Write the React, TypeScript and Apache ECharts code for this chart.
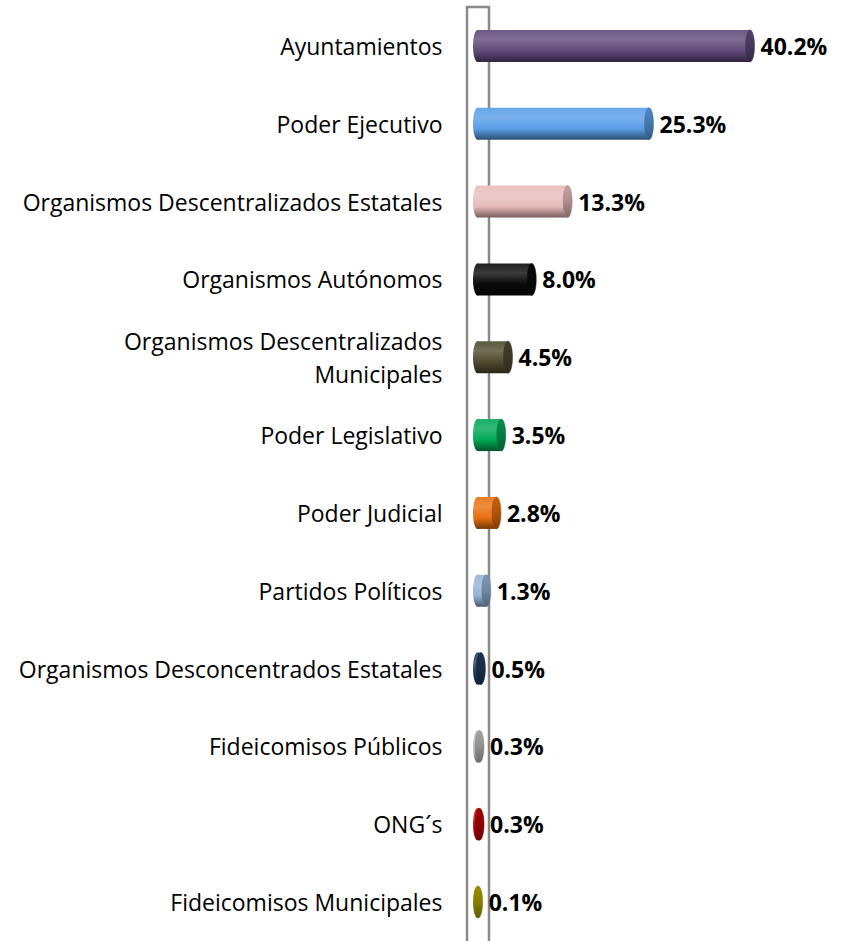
import React, { useEffect, useRef } from "react";
import * as echarts from "echarts";

const categories = [
  "Ayuntamientos",
  "Poder Ejecutivo",
  "Organismos Descentralizados Estatales",
  "Organismos Autónomos",
  "Organismos Descentralizados\nMunicipales",
  "Poder Legislativo",
  "Poder Judicial",
  "Partidos Políticos",
  "Organismos Desconcentrados Estatales",
  "Fideicomisos Públicos",
  "ONG´s",
  "Fideicomisos Municipales",
];

const values = [40.2, 25.3, 13.3, 8.0, 4.5, 3.5, 2.8, 1.3, 0.5, 0.3, 0.3, 0.1];

const barColors = [
  "#604a7b",
  "#5a9ee8",
  "#e8bcbc",
  "#0a0a0a",
  "#4f4a2e",
  "#00a855",
  "#e8700f",
  "#95b3d7",
  "#1f3a5f",
  "#c0c0c0",
  "#c00000",
  "#b3a800",
];

function mix(hex: string, target: number, t: number): string {
  const n = parseInt(hex.slice(1), 16);
  const r = (n >> 16) & 255, g = (n >> 8) & 255, b = n & 255;
  const f = (c: number) => Math.round(c + (target - c) * t);
  return `rgb(${f(r)},${f(g)},${f(b)})`;
}

const GRID_LEFT = 477.5;
const GRID_TOP = 7;
const X_MAX = 50;
const PX_PER_UNIT = 6.78;

export default function App() {
  const ref = useRef<HTMLDivElement>(null);
  useEffect(() => {
    if (!ref.current) return;
    const chart = echarts.init(ref.current, undefined, { renderer: "svg" });
    const gridWidth = X_MAX * PX_PER_UNIT;
    const rowH = 78.3;
    const gridHeight = rowH * categories.length;

    const option: any = {
      animation: false,
      backgroundColor: "#ffffff",
      grid: {
        left: GRID_LEFT,
        top: GRID_TOP,
        width: gridWidth,
        height: gridHeight,
        containLabel: false,
      },
      xAxis: {
        type: "value",
        min: 0,
        max: X_MAX,
        show: false,
      },
      yAxis: {
        type: "category",
        inverse: true,
        data: categories,
        axisLine: { show: false },
        axisTick: { show: false },
        splitLine: { show: false },
        axisLabel: {
          margin: 35,
          color: "#000000",
          fontFamily: "Open Sans",
          fontSize: 23,
          lineHeight: 33,
          align: "right",
        },
      },
      graphic: [
        {
          type: "rect",
          z: 0,
          silent: true,
          shape: { x: GRID_LEFT - 10.5, y: GRID_TOP, width: 22, height: 960 },
          style: { fill: "none", stroke: "#8a8a8a", lineWidth: 2.5 },
        },
      ],
      series: [
        {
          type: "custom",
          z: 5,
          encode: { x: 0, y: 1 },
          data: values.map((v, i) => [v, i]),
          renderItem: (params: any, api: any) => {
            const i = params.dataIndex;
            const v = api.value(0);
            const cat = api.value(1);
            const p0 = api.coord([0, cat]);
            const p1 = api.coord([v, cat]);
            const h = 32;
            const ry = h / 2;
            const rx = 4.5;
            const x0 = p0[0];
            const x1 = p1[0];
            const cy = p0[1];
            const base = barColors[i];
            const grad = new echarts.graphic.LinearGradient(0, 0, 0, 1, [
              { offset: 0, color: mix(base, 255, 0.08) },
              { offset: 0.3, color: mix(base, 255, 0.2) },
              { offset: 0.65, color: base },
              { offset: 1, color: mix(base, 0, 0.5) },
            ]);
            const capGrad = new echarts.graphic.LinearGradient(0, 0, 0, 1, [
              { offset: 0, color: mix(base, 0, 0.15) },
              { offset: 0.5, color: mix(base, 0, 0.25) },
              { offset: 1, color: mix(base, 0, 0.45) },
            ]);
            return {
              type: "group",
              children: [
                {
                  type: "ellipse",
                  shape: { cx: x0, cy, rx, ry },
                  style: { fill: grad },
                },
                {
                  type: "rect",
                  shape: { x: x0, y: cy - ry, width: Math.max(0, x1 - x0), height: h },
                  style: { fill: grad },
                },
                {
                  type: "ellipse",
                  shape: { cx: x1, cy, rx, ry },
                  style: { fill: capGrad, stroke: mix(base, 0, 0.3), lineWidth: 0.5 },
                },
                {
                  type: "text",
                  style: {
                    text: v.toFixed(1) + "%",
                    x: x1 + rx + 6,
                    y: cy,
                    fill: "#000000",
                    fontFamily: "Open Sans",
                    fontWeight: "bold",
                    fontSize: 23,
                    verticalAlign: "middle",
                    align: "left",
                  },
                },
              ],
            };
          },
        },
      ],
    };
    chart.setOption(option);
    return () => chart.dispose();
  }, []);

  return (
    <div
      ref={ref}
      style={{ position: "fixed", left: 0, top: 0, width: 848, height: 941, background: "#fff" }}
    />
  );
}
